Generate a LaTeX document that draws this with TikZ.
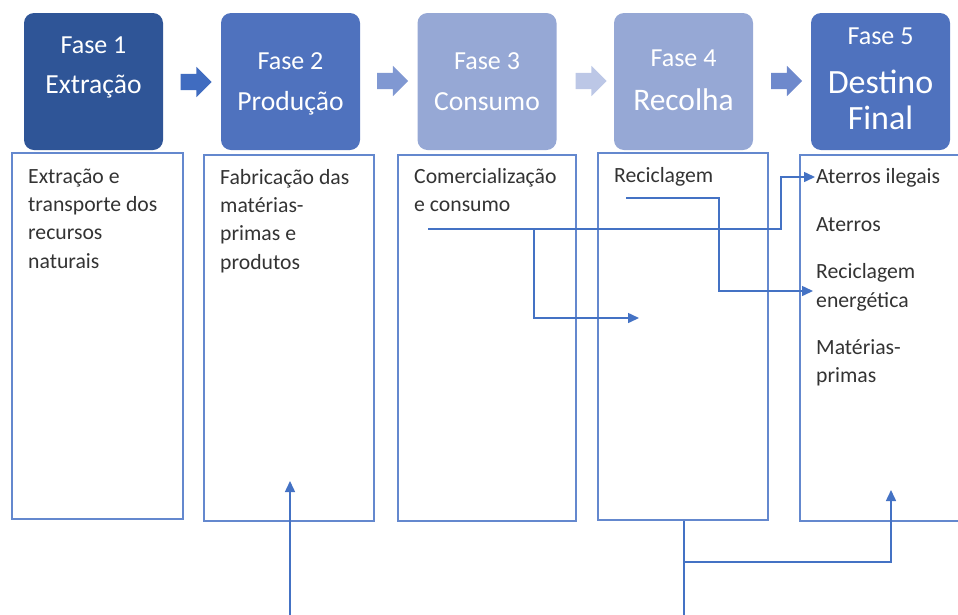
\documentclass[tikz,border=0pt]{standalone}
\usepackage{fontspec}
\setmainfont{Carlito}
\usepackage{tikz}
\usetikzlibrary{arrows.meta,positioning,shapes.arrows}
\definecolor{fase1col}{RGB}{47,85,151}
\definecolor{fase2col}{RGB}{79,114,190}
\definecolor{fase3col}{RGB}{150,168,213}
\definecolor{seta1col}{RGB}{64,108,192}
\definecolor{seta2col}{RGB}{128,152,210}
\definecolor{seta3col}{RGB}{188,199,230}
\definecolor{seta4col}{RGB}{110,137,204}
\definecolor{boxcol}{RGB}{100,136,206}
\definecolor{linecol}{RGB}{68,114,196}
\begin{document}
\begin{tikzpicture}[
  x=1pt, y=-1pt,
  fase/.style={rounded corners=10pt, minimum width=139pt, minimum height=137pt, inner sep=0},
  lbl/.style={anchor=base, text=white, inner sep=0, font=\fontsize{26}{30}\selectfont},
  seta/.style={single arrow, minimum width=30pt, minimum height=31pt, single arrow head extend=7pt, inner xsep=0, inner ysep=8pt},
  caixa/.style={draw=boxcol, line width=1.5pt, inner sep=0},
  txt/.style={anchor=north west, inner sep=0, align=left, text=black!80, font=\fontsize{21.7}{28.3}\selectfont},
  e/.style={-{Triangle[length=11pt,width=10pt]}, linecol, line width=1.5pt},
]
\clip (0,0) rectangle (958,614);
% fases
\node[fase, fill=fase1col] (h1) at (93.5,81.5) {};
\node[fase, fill=fase2col] (h2) at (290.5,81.5) {};
\node[fase, fill=fase3col] (h3) at (487,81.5) {};
\node[fase, fill=fase3col] (h4) at (683.5,81.5) {};
\node[fase, fill=fase2col] (h5) at (880.5,81.5) {};
\node[lbl] (f1) at (93.5,53) {Fase 1};
\node[lbl, font=\fontsize{27.6}{32}\selectfont] (n1) at (93.5,93) {Extração};
\node[lbl] (f2) at (290.5,69) {Fase 2};
\node[lbl, font=\fontsize{27.6}{32}\selectfont] (n2) at (290.5,110) {Produção};
\node[lbl] (f3) at (487,69) {Fase 3};
\node[lbl, font=\fontsize{27.6}{32}\selectfont] (n3) at (487,110) {Consumo};
\node[lbl] (f4) at (683.5,66) {Fase 4};
\node[lbl, font=\fontsize{31.4}{36}\selectfont] (n4) at (683.5,110) {Recolha};
\node[lbl] (f5) at (880.5,44) {Fase 5};
\node[lbl, font=\fontsize{34}{38}\selectfont] (n5a) at (880.5,93) {Destino};
\node[lbl, font=\fontsize{34}{38}\selectfont] (n5b) at (880.5,129) {Final};
% setas entre fases
\node[seta, fill=seta1col] (s12) at (192,82) {};
\node[seta, fill=seta2col] (s23) at (388.5,81) {};
\node[seta, fill=seta3col] (s34) at (587,81) {};
\node[seta, fill=seta4col] (s45) at (782.5,81) {};
% caixas de texto
\node[caixa, minimum width=171pt, minimum height=366pt] (b1) at (97.5,336) {};
\node[caixa, minimum width=170pt, minimum height=366pt] (b2) at (289,338) {};
\node[caixa, minimum width=178pt, minimum height=366pt] (b3) at (487,338) {};
\node[caixa, minimum width=170pt, minimum height=367pt] (b4) at (683,336.5) {};
\node[caixa, minimum width=180pt, minimum height=366pt] (b5) at (890,338) {};
\node[txt] (t1) at (28,163.2) {\strut Extração e\\transporte dos\\recursos\\naturais};
\node[txt] (t2) at (220,164.2) {\strut Fabricação das\\matérias-\\primas e\\produtos};
\node[txt] (t3) at (414,163.2) {\strut Comercialização\\e consumo};
\node[txt] (t4) at (614,162.2) {\strut Reciclagem};
\node[txt] (t5) at (816,163.2) {\strut Aterros ilegais\\[20pt]Aterros\\[19pt]Reciclagem\\energética\\[19pt]Matérias-\\primas};
% ligacoes
\coordinate (c3out) at (428,229);
\coordinate (c3br) at (534,229);
\coordinate (r4in) at (639,318);
\coordinate (e5ileg) at (815,177);
\coordinate (r4out) at (626,198);
\coordinate (e5ener) at (813,291);
\coordinate (p2bot) at (290,620);
\coordinate (p2in) at (290,481);
\coordinate (r4bot) at (684,620);
\coordinate (r4br) at (684,562);
\coordinate (e5in) at (891,490);
\draw[e] (c3out) -- ++(353,0) |- (e5ileg);
\draw[e] (c3br) |- (r4in);
\draw[e] (r4out) -- ++(93,0) |- (e5ener);
\draw[e] (p2bot) -- (p2in);
\draw[e, -] (r4bot) -- (r4bot |- b4.south);
\draw[e] (r4br) -| (e5in);
\end{tikzpicture}
\end{document}
